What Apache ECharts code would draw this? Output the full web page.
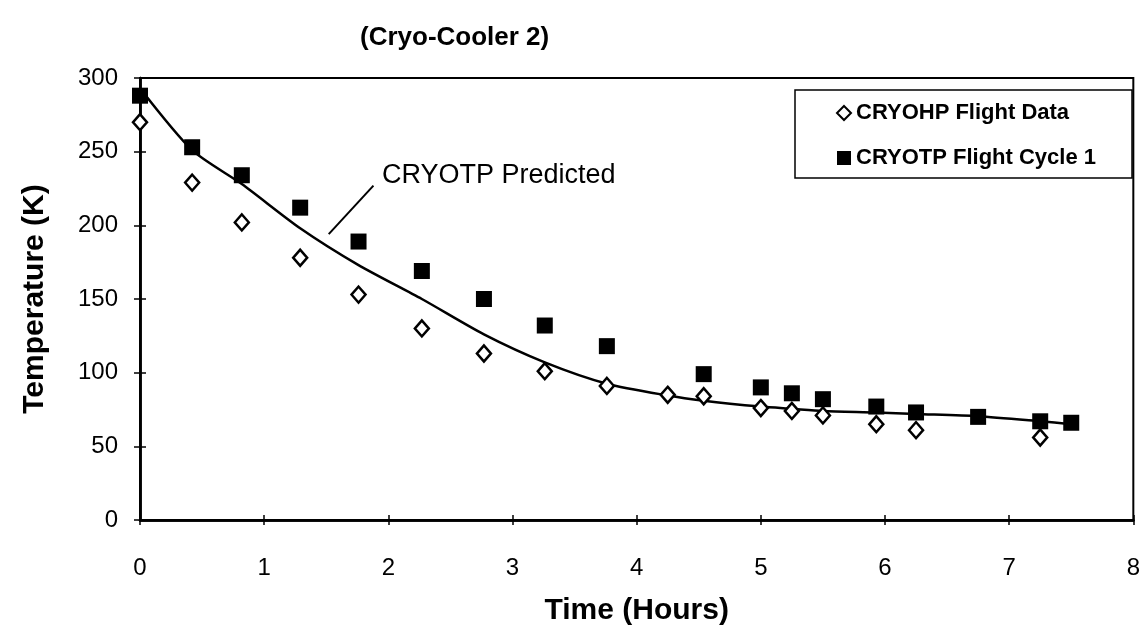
<!DOCTYPE html>
<html>
<head>
<meta charset="utf-8">
<script src="https://cdn.jsdelivr.net/npm/echarts@6/dist/echarts.min.js"></script>
<style>
  html, body { margin: 0; padding: 0; background: #fff; }
  #chart { width: 1143px; height: 639px; }
</style>
</head>
<body>
<div id="chart"></div>
<script>
// CRYOHP flight data (hollow diamonds)
const ohpTime = [0, 0.42, 0.82, 1.29, 1.76, 2.27, 2.77, 3.26, 3.76, 4.25, 4.54, 5.0, 5.25, 5.5, 5.93, 6.25, 7.25]
const ohpTemp = [270, 229, 202, 178, 153, 130, 113, 101, 91, 85, 84, 76, 74, 71, 65, 61, 56]

// CRYOTP flight cycle 1 (filled squares)
const cycleTime = [0, 0.42, 0.82, 1.29, 1.76, 2.27, 2.77, 3.26, 3.76, 4.54, 5.0, 5.25, 5.5, 5.93, 6.25, 6.75, 7.25, 7.5]
const cycleTemp = [288, 253, 234, 212, 189, 169, 150, 132, 118, 99, 90, 86, 82, 77, 73, 70, 67, 66]

// CRYOTP predicted (solid line)
const predTime = [0, 0.42, 0.82, 1.29, 1.76, 2.27, 2.77, 3.26, 3.76, 4.25, 4.54, 5.0, 5.25, 5.5, 5.93, 6.25, 6.75, 7.25, 7.5]
const predTemp = [293, 251, 228, 198, 173, 150, 126, 107, 92.5, 84.5, 81, 77, 75.5, 74, 73, 72, 70.5, 67, 65]

// leader line for the "CRYOTP Predicted" note, in data units
const noteLine = [[1.52, 194], [1.88, 227]]

const xTicks = [0, 1, 2, 3, 4, 5, 6, 7, 8]
const yTicks = [0, 50, 100, 150, 200, 250, 300]

const pairs = (xs, ys) => xs.map((x, i) => [x, ys[i]])

const font = 'Liberation Sans, Arial, sans-serif'
const chart = echarts.init(document.getElementById('chart'))

const xBase = {
  type: 'value',
  min: xTicks[0],
  max: xTicks[xTicks.length - 1],
  interval: 1,
  splitLine: { show: false },
  axisLine: { onZero: false, lineStyle: { color: '#000', width: 2.5 } }
}
const yBase = {
  type: 'value',
  min: yTicks[0],
  max: yTicks[yTicks.length - 1],
  interval: 50,
  splitLine: { show: false },
  axisLine: { onZero: false, lineStyle: { color: '#000', width: 2.5 } }
}

chart.setOption({
  animation: false,
  title: {
    text: '(Cryo-Cooler 2)',
    left: 355,
    top: 20,
    textStyle: { fontFamily: font, fontSize: 26, fontWeight: 'bold', color: '#000' }
  },
  grid: {
    left: 140, right: 9, top: 78, bottom: 119,
    show: true, borderColor: '#000', borderWidth: 2
  },
  legend: {
    data: ['CRYOHP Flight Data', 'CRYOTP Flight Cycle 1'],
    orient: 'vertical',
    left: 795,
    top: 90,
    padding: [12, 36, 9, 41],
    itemGap: 23,
    itemWidth: 14,
    itemHeight: 14,
    borderColor: '#000',
    borderWidth: 1.5,
    backgroundColor: '#fff',
    textStyle: { fontFamily: font, fontSize: 22, fontWeight: 'bold', color: '#000' }
  },
  xAxis: [
    Object.assign({}, xBase, {
      name: 'Time (Hours)',
      nameLocation: 'middle',
      nameGap: 76,
      nameTextStyle: { fontFamily: font, fontSize: 30, fontWeight: 'bold', color: '#000' },
      axisTick: { show: true, inside: false, length: 5, lineStyle: { color: '#000', width: 1.5 } },
      axisLabel: { margin: 36, fontFamily: font, fontSize: 24, color: '#000' }
    }),
    Object.assign({}, xBase, {
      position: 'bottom',
      axisTick: { show: true, inside: true, length: 5, lineStyle: { color: '#000', width: 1.5 } },
      axisLabel: { show: false }
    })
  ],
  yAxis: [
    Object.assign({}, yBase, {
      name: 'Temperature (K)',
      nameLocation: 'middle',
      nameGap: 90,
      nameTextStyle: { fontFamily: font, fontSize: 30, fontWeight: 'bold', color: '#000' },
      axisTick: { show: true, inside: false, length: 6, lineStyle: { color: '#000', width: 1.5 } },
      axisLabel: { margin: 22, fontFamily: font, fontSize: 24, color: '#000' }
    }),
    Object.assign({}, yBase, {
      position: 'left',
      axisTick: { show: true, inside: true, length: 6, lineStyle: { color: '#000', width: 1.5 } },
      axisLabel: { show: false }
    })
  ],
  graphic: [{
    type: 'text',
    left: 382,
    top: 162,
    style: { text: 'CRYOTP Predicted', font: '27px ' + font, fill: '#000' }
  }],
  series: [
    {
      name: 'CRYOTP Predicted',
      type: 'line',
      data: pairs(predTime, predTemp),
      showSymbol: false,
      smooth: 0.25,
      lineStyle: { color: '#000', width: 2.5 },
      z: 2,
      markLine: {
        silent: true,
        symbol: 'none',
        label: { show: false },
        lineStyle: { color: '#000', width: 2, type: 'solid' },
        data: [[{ coord: noteLine[0] }, { coord: noteLine[1] }]]
      }
    },
    {
      name: 'CRYOHP Flight Data',
      type: 'scatter',
      data: pairs(ohpTime, ohpTemp),
      symbol: 'diamond',
      symbolSize: [14, 16],
      itemStyle: { color: '#fff', borderColor: '#000', borderWidth: 2.5, opacity: 1 },
      z: 3
    },
    {
      name: 'CRYOTP Flight Cycle 1',
      type: 'scatter',
      data: pairs(cycleTime, cycleTemp),
      symbol: 'rect',
      symbolSize: 16,
      itemStyle: { color: '#000', opacity: 1 },
      z: 4
    }
  ]
})
</script>
</body>
</html>
